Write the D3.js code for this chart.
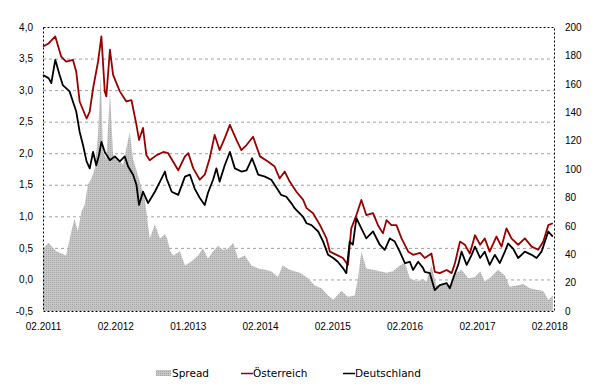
<!DOCTYPE html>
<html>
<head>
<meta charset="utf-8">
<script src="https://cdn.jsdelivr.net/npm/d3@7"></script>
<style>
  body { margin: 0; background: #fff; }
  svg { display: block; font-family: "DejaVu Sans", Verdana, sans-serif; }
</style>
</head>
<body>
<svg id="chart" width="603" height="389"></svg>
<script>
// Rendite 10j. Staatsanleihen (%), Spread in Basispunkten (rechte Achse)
const oesterreich = [
  ["2011-02-01",3.69],["2011-03-01",3.74],["2011-04-04",3.85],["2011-05-04",3.53],["2011-05-29",3.45],
  ["2011-07-02",3.48],["2011-07-19",3.29],["2011-08-05",2.82],["2011-09-09",2.55],["2011-09-25",2.66],
  ["2011-10-12",3.03],["2011-11-06",3.45],["2011-11-23",3.85],["2011-12-10",2.98],["2011-12-18",2.90],
  ["2012-01-05",3.64],["2012-01-21",3.24],["2012-02-24",2.98],["2012-03-28",2.82],["2012-04-23",2.84],
  ["2012-05-18",2.45],["2012-05-31",2.21],["2012-06-20",2.40],["2012-07-07",1.97],["2012-07-24",1.89],
  ["2012-08-28",1.97],["2012-10-01",2.02],["2012-10-25",2.00],["2012-12-15",1.73],["2013-01-18",1.95],
  ["2013-02-04",2.00],["2013-03-01",1.76],["2013-04-03",1.58],["2013-04-28",1.66],["2013-05-23",1.92],
  ["2013-06-17",2.29],["2013-07-12",2.05],["2013-08-07",2.24],["2013-09-02",2.45],["2013-10-05",2.21],
  ["2013-10-30",2.05],["2013-11-25",2.13],["2013-12-28",2.26],["2014-02-01",1.95],["2014-03-13",1.87],
  ["2014-04-16",1.79],["2014-05-11",1.60],["2014-06-06",1.71],["2014-07-01",1.55],["2014-08-04",1.39],
  ["2014-09-07",1.26],["2014-09-24",1.13],["2014-10-27",1.05],["2014-12-01",0.86],["2015-01-03",0.65],
  ["2015-01-20",0.44],["2015-02-23",0.39],["2015-03-27",0.34],["2015-04-21",0.23],["2015-05-08",0.81],
  ["2015-06-03",1.02],["2015-06-28",1.26],["2015-07-23",1.02],["2015-08-26",1.05],["2015-09-20",0.86],
  ["2015-10-15",0.73],["2015-11-02",0.94],["2015-11-27",0.86],["2015-12-22",0.86],["2016-01-17",0.65],
  ["2016-02-20",0.44],["2016-03-15",0.39],["2016-04-20",0.42],["2016-05-13",0.34],["2016-06-16",0.41],
  ["2016-07-03",0.12],["2016-07-28",0.10],["2016-09-01",0.15],["2016-09-26",0.10],["2016-10-13",0.26],
  ["2016-11-07",0.60],["2016-12-02",0.55],["2016-12-27",0.41],["2017-01-22",0.70],["2017-02-17",0.55],
  ["2017-03-12",0.65],["2017-04-06",0.44],["2017-05-10",0.68],["2017-06-05",0.52],["2017-06-30",0.81],
  ["2017-07-25",0.65],["2017-08-28",0.55],["2017-10-01",0.65],["2017-11-04",0.52],["2017-12-07",0.47],
  ["2018-01-02",0.60],["2018-01-27",0.86],["2018-02-19",0.89]
];

const deutschland = [
  ["2011-02-01",3.24],["2011-03-01",3.19],["2011-03-15",3.11],["2011-04-04",3.48],["2011-04-26",3.24],
  ["2011-05-12",3.08],["2011-06-15",2.98],["2011-07-02",2.82],["2011-07-19",2.66],["2011-08-05",2.34],
  ["2011-08-22",2.13],["2011-09-09",1.87],["2011-09-25",1.76],["2011-10-12",2.02],["2011-10-28",1.81],
  ["2011-11-11",1.97],["2011-11-23",2.18],["2011-12-10",2.02],["2012-01-05",1.89],["2012-01-30",1.95],
  ["2012-02-24",1.87],["2012-03-20",1.95],["2012-04-06",1.79],["2012-05-01",1.66],["2012-05-18",1.50],
  ["2012-05-31",1.18],["2012-06-20",1.39],["2012-07-16",1.21],["2012-08-19",1.39],["2012-09-14",1.55],
  ["2012-10-09",1.71],["2012-10-17",1.60],["2012-11-12",1.39],["2012-12-15",1.34],["2013-01-18",1.63],
  ["2013-02-12",1.66],["2013-03-08",1.44],["2013-04-03",1.29],["2013-04-28",1.18],["2013-05-14",1.37],
  ["2013-06-09",1.58],["2013-06-26",1.76],["2013-07-12",1.55],["2013-08-07",1.81],["2013-09-02",2.02],
  ["2013-09-27",1.76],["2013-10-30",1.71],["2013-11-25",1.73],["2013-12-23",1.92],["2014-01-23",1.66],
  ["2014-02-26",1.63],["2014-03-30",1.58],["2014-05-02",1.42],["2014-05-19",1.34],["2014-06-14",1.31],
  ["2014-07-09",1.21],["2014-07-26",1.13],["2014-08-04",1.10],["2014-09-07",0.99],["2014-09-24",0.89],
  ["2014-10-19",0.86],["2014-11-22",0.76],["2014-12-17",0.60],["2015-01-11",0.39],["2015-02-06",0.34],
  ["2015-03-01",0.28],["2015-03-27",0.18],["2015-04-13",0.10],["2015-04-30",0.60],["2015-05-16",0.55],
  ["2015-06-03",0.97],["2015-06-28",0.81],["2015-07-23",0.65],["2015-08-26",0.76],["2015-09-29",0.55],
  ["2015-10-24",0.47],["2015-11-19",0.65],["2015-12-14",0.60],["2016-01-08",0.44],["2016-02-03",0.26],
  ["2016-02-28",0.28],["2016-03-15",0.15],["2016-04-10",0.28],["2016-05-05",0.18],["2016-05-13",0.12],
  ["2016-06-08",0.10],["2016-07-03",-0.17],["2016-07-28",-0.09],["2016-09-01",-0.06],["2016-09-17",-0.14],
  ["2016-10-04",0.02],["2016-10-29",0.23],["2016-11-15",0.44],["2016-12-11",0.23],["2017-01-05",0.39],
  ["2017-01-22",0.52],["2017-02-17",0.34],["2017-03-12",0.44],["2017-04-06",0.23],["2017-05-02",0.39],
  ["2017-05-27",0.26],["2017-06-22",0.44],["2017-07-08",0.57],["2017-08-02",0.49],["2017-08-28",0.34],
  ["2017-10-01",0.44],["2017-11-04",0.39],["2017-11-29",0.34],["2017-12-24",0.44],["2018-01-27",0.76],
  ["2018-02-19",0.68]
];

const spread = [
  ["2011-02-01",44],["2011-03-01",48],["2011-04-09",42],["2011-05-29",39],["2011-06-24",56],
  ["2011-07-10",65],["2011-07-27",56],["2011-08-14",70],["2011-08-31",75],["2011-09-16",89],
  ["2011-10-03",93],["2011-10-20",100],["2011-11-06",124],["2011-11-20",166],["2011-12-01",112],
  ["2011-12-18",107],["2012-01-05",154],["2012-01-21",110],["2012-02-15",107],["2012-03-11",103],
  ["2012-04-14",126],["2012-05-01",107],["2012-06-04",91],["2012-06-29",79],["2012-07-24",51],
  ["2012-08-19",61],["2012-09-14",51],["2012-10-09",54],["2012-10-20",51],["2012-11-05",42],
  ["2012-11-20",39],["2012-12-24",42],["2013-01-18",32],["2013-02-21",35],["2013-03-25",39],
  ["2013-04-19",44],["2013-05-14",37],["2013-06-09",42],["2013-07-04",46],["2013-07-30",43],
  ["2013-08-24",44],["2013-09-19",48],["2013-10-13",37],["2013-11-16",39],["2013-12-20",32],
  ["2014-01-23",30],["2014-02-26",29],["2014-03-30",28],["2014-05-02",24],["2014-05-27",32],
  ["2014-07-01",29],["2014-07-26",28],["2014-08-21",27],["2014-10-02",23],["2014-11-05",18],
  ["2014-12-09",16],["2015-01-11",11],["2015-02-06",8],["2015-03-19",14],["2015-04-21",10],
  ["2015-05-25",11],["2015-06-11",23],["2015-06-28",42],["2015-07-23",30],["2015-08-26",29],
  ["2015-09-29",28],["2015-11-02",27],["2015-12-05",28],["2016-01-08",32],["2016-02-03",34],
  ["2016-02-28",23],["2016-04-01",21],["2016-05-05",22],["2016-05-22",21],["2016-06-16",32],
  ["2016-07-11",18],["2016-08-14",19],["2016-09-17",18],["2016-10-21",27],["2016-11-15",29],
  ["2016-12-19",23],["2017-01-22",24],["2017-02-17",28],["2017-03-12",21],["2017-04-06",23],
  ["2017-05-18",29],["2017-06-22",25],["2017-07-16",17],["2017-08-20",18],["2017-09-23",19],
  ["2017-10-26",16],["2017-11-29",15],["2018-01-02",14],["2018-01-27",8],["2018-02-19",11]
];

const leftTicks = [-0.5, 0, 0.5, 1, 1.5, 2, 2.5, 3, 3.5, 4];
const rightTicks = [0, 20, 40, 60, 80, 100, 120, 140, 160, 180, 200];
const xTickDates = ["2011-02-01","2012-02-01","2013-02-01","2014-02-01","2015-02-01","2016-02-01","2017-02-01","2018-02-01"];
const xTickLabels = ["02.2011","02.2012","01.2013","02.2014","02.2015","02.2016","02.2017","02.2018"];
const legendItems = ["Spread", "Österreich", "Deutschland"];

const parse = d3.timeParse("%Y-%m-%d");
const svg = d3.select("#chart");
const plot = { left: 43, right: 554, top: 27, bottom: 311 };

const x = d3.scaleTime()
  .domain([parse("2011-02-01"), parse("2018-02-25")])
  .range([plot.left, plot.right]);
const yL = d3.scaleLinear().domain([-0.5, 4]).range([plot.bottom, plot.top]);
const yR = d3.scaleLinear().domain([0, 200]).range([plot.bottom, plot.top]);

// dotted fill like the excel pattern
const defs = svg.append("defs");
const pat = defs.append("pattern")
  .attr("id", "dots").attr("width", 2).attr("height", 2)
  .attr("patternUnits", "userSpaceOnUse");
pat.append("rect").attr("width", 2).attr("height", 2).attr("fill", "#c6c6c6");
pat.append("rect").attr("width", 1).attr("height", 1).attr("fill", "#a6a6a6");

// gridlines
svg.append("g")
  .selectAll("line")
  .data(leftTicks.filter(d => d > -0.5 && d < 4))
  .join("line")
  .attr("x1", plot.left).attr("x2", plot.right)
  .attr("y1", d => yL(d) + 0.5).attr("y2", d => yL(d) + 0.5)
  .attr("stroke", "#a0a0a0")
  .attr("stroke-dasharray", "3,3");

// spread area
const spreadData = spread.map(d => ({ date: parse(d[0]), v: d[1] }));
svg.append("path")
  .datum(spreadData)
  .attr("fill", "url(#dots)")
  .attr("d", d3.area().x(d => x(d.date)).y0(yR(0)).y1(d => yR(d.v)));

// lines
const line = d3.line().x(d => x(d.date)).y(d => yL(d.v));
[[oesterreich, "#990000"], [deutschland, "#000000"]].forEach(([series, color]) => {
  svg.append("path")
    .datum(series.map(d => ({ date: parse(d[0]), v: d[1] })))
    .attr("fill", "none")
    .attr("stroke", color)
    .attr("stroke-width", 1.8)
    .attr("stroke-linejoin", "round")
    .attr("d", line);
});

// plot border
svg.append("rect")
  .attr("x", plot.left + 0.5).attr("y", plot.top + 0.5)
  .attr("width", plot.right - plot.left).attr("height", plot.bottom - plot.top)
  .attr("fill", "none")
  .attr("stroke", "#000")
  .attr("stroke-dasharray", "2,2");

// axes
const styleAxis = g => {
  g.select(".domain").remove();
  g.selectAll("text").attr("fill", "#000").style("font-size", "10px");
};

svg.append("g")
  .attr("transform", `translate(${plot.left},0)`)
  .call(d3.axisLeft(yL).tickValues(leftTicks).tickSize(0).tickPadding(10)
    .tickFormat(d => d3.format(".1f")(d).replace(".", ",").replace("−", "-")))
  .call(styleAxis);

svg.append("g")
  .attr("transform", `translate(${plot.right},0)`)
  .call(d3.axisRight(yR).tickValues(rightTicks).tickSize(0).tickPadding(11))
  .call(styleAxis);

svg.append("g")
  .attr("transform", `translate(0,${plot.bottom})`)
  .call(d3.axisBottom(x).tickValues(xTickDates.map(parse)).tickSize(0).tickPadding(12)
    .tickFormat((d, i) => xTickLabels[i]))
  .call(styleAxis);

// legend
const legendX = [156, 241, 343];
const lg = svg.append("g").style("font-size", "10.5px");
legendItems.forEach((name, i) => {
  const g = lg.append("g").attr("transform", `translate(${legendX[i]},373)`);
  if (i === 0) {
    g.append("rect").attr("x", 0).attr("y", -3).attr("width", 15).attr("height", 6).attr("fill", "url(#dots)");
  } else {
    g.append("line").attr("x1", 0).attr("x2", 12).attr("y1", 0.5).attr("y2", 0.5)
      .attr("stroke", i === 1 ? "#990000" : "#000").attr("stroke-width", 1.5);
  }
  g.append("text").attr("x", i === 0 ? 16 : 12).attr("y", 4).attr("fill", "#000").text(name);
});
</script>
</body>
</html>
